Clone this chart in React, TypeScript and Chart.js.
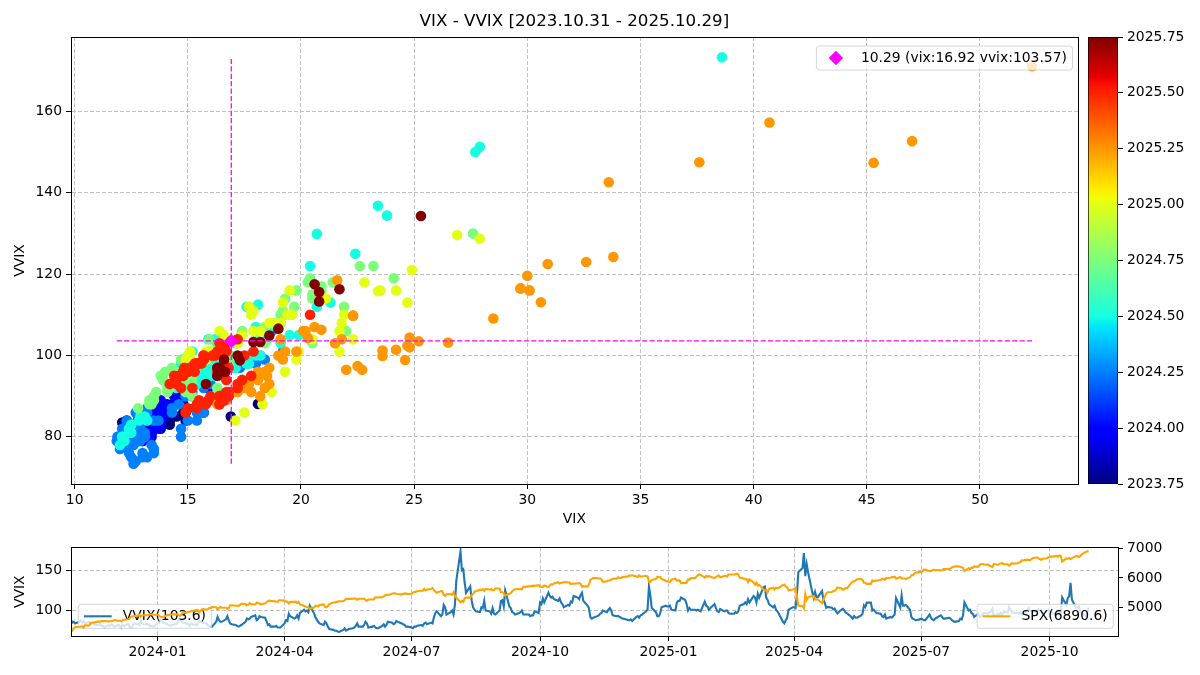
import React, { useEffect, useRef } from 'react';
import { Chart, registerables } from 'chart.js';

Chart.register(...registerables);

// ------------------------------------------------------------------ data
// first month of the series and the first / last trading day
const START_YEAR = 2023;
const START_MONTH = 10;
const START_DAY = 31;
const END_DAY = 29;
const EXTRA_DAYS_RIGHT = 21;

// one inner list per calendar month (weekdays in order)
const vixByMonth: number[][] = [
  [18.1], // 2023-10
  [16.9, 15.7, 14.9, 14.9, 14.8, 14.5, 15.3, 14.2, 14.8, 14.2, 14.2, 14.3, 13.8, 13.4, 13.4, 12.9, 12.9, 12.5, 12.7, 12.7, 13.0, 12.9],
  [12.6, 13.1, 12.9, 12.8, 13.1, 12.4, 12.1, 12.6, 12.2, 12.2, 12.3, 12.5, 12.6, 13.7, 13.0, 13.0, 13.0, 13.0, 12.4, 12.5, 12.5],
  [13.2, 13.2, 14.0, 14.0, 13.4, 13.1, 12.8, 12.7, 12.7, 12.7, 13.0, 13.8, 14.8, 14.1, 13.3, 13.2, 13.3, 12.6, 13.5, 13.3, 13.3, 13.6, 14.4],
  [13.9, 13.9, 13.7, 13.1, 12.8, 12.9, 12.9, 13.9, 15.9, 14.4, 14.0, 14.2, 14.7, 15.4, 14.5, 13.8, 13.8, 13.7, 13.4, 13.4, 13.4],
  [13.1, 13.5, 14.5, 14.5, 14.4, 14.7, 15.0, 13.8, 13.8, 14.4, 14.4, 14.3, 13.8, 13.0, 13.1, 12.9, 13.1, 13.2, 12.8, 13.0, 13.0],
  [13.7, 14.6, 14.3, 16.4, 16.0, 15.2, 15.2, 15.8, 14.9, 17.3, 19.2, 18.4, 18.2, 18.0, 18.7, 16.9, 15.7, 16.0, 15.4, 15.0, 14.7, 15.7],
  [15.4, 14.7, 13.5, 13.5, 13.2, 13.0, 12.7, 12.6, 13.0, 13.4, 12.5, 12.4, 12.0, 12.2, 11.86, 12.3, 12.8, 11.9, 11.9, 12.9, 14.3, 13.5, 12.9],
  [13.1, 13.1, 12.6, 12.6, 12.2, 12.7, 12.9, 12.0, 12.1, 12.7, 12.8, 12.3, 12.3, 13.2, 13.2, 12.8, 12.8, 12.6, 12.2, 12.4],
  [12.2, 12.0, 12.1, 12.1, 12.5, 12.4, 12.4, 12.85, 12.9, 12.5, 13.1, 13.2, 14.5, 15.9, 16.5, 14.9, 14.7, 18.0, 18.5, 16.4, 16.6, 17.7, 16.4],
  [18.6, 23.4, 38.6, 27.7, 27.9, 23.8, 20.4, 20.7, 18.1, 16.2, 15.2, 14.8, 14.7, 15.9, 16.3, 17.6, 15.9, 16.2, 15.4, 17.1, 15.7, 15.6],
  [18.0, 20.7, 21.3, 19.9, 22.4, 19.5, 19.1, 17.7, 17.1, 16.6, 17.1, 17.6, 18.2, 16.3, 16.2, 16.0, 15.4, 15.4, 15.4, 17.0, 16.7],
  [19.3, 18.9, 20.5, 19.2, 22.6, 21.4, 20.9, 20.9, 20.5, 19.7, 20.6, 19.6, 19.1, 18.0, 18.4, 18.2, 19.2, 19.1, 20.3, 19.8, 19.3, 20.4, 23.2],
  [21.9, 22.0, 20.5, 16.3, 15.2, 14.9, 15.0, 14.7, 14.0, 14.3, 16.1, 15.6, 16.4, 17.2, 16.9, 15.2, 14.6, 14.1, 14.1, 14.1, 13.5],
  [13.3, 13.3, 13.4, 13.5, 12.8, 14.2, 14.2, 13.6, 13.9, 13.8, 14.7, 15.9, 27.6, 24.1, 18.4, 16.8, 14.3, 14.3, 14.7, 15.95, 17.4, 17.35],
  [17.4, 17.9, 16.1, 16.0, 17.8, 17.7, 17.7, 19.5, 19.2, 18.7, 16.1, 16.6, 16.0, 16.0, 15.1, 15.1, 15.0, 14.9, 17.9, 16.4, 16.6, 15.8, 16.4],
  [18.6, 17.2, 15.8, 15.5, 16.5, 15.8, 16.0, 16.0, 15.1, 14.8, 14.8, 15.4, 15.3, 15.7, 18.2, 19.0, 19.4, 19.1, 21.1, 19.6],
  [22.8, 23.5, 21.9, 24.9, 23.4, 27.9, 26.9, 24.2, 24.7, 21.8, 20.5, 21.7, 19.9, 19.8, 19.3, 17.5, 17.1, 18.3, 18.7, 21.7, 22.3],
  [21.8, 21.5, 30.0, 45.3, 47.0, 52.3, 33.6, 40.7, 37.6, 30.9, 30.1, 32.6, 29.7, 29.7, 33.8, 30.6, 28.5, 26.5, 24.8, 25.2, 24.2, 24.7],
  [24.6, 22.7, 23.6, 24.8, 23.6, 22.5, 22.0, 18.4, 18.2, 18.6, 17.8, 17.2, 18.1, 18.1, 20.9, 20.3, 22.3, 22.3, 19.0, 19.3, 19.2, 18.6],
  [18.4, 17.7, 17.6, 18.5, 16.8, 17.2, 17.0, 17.3, 18.0, 20.8, 19.1, 21.6, 20.1, 20.2, 20.6, 19.8, 17.5, 16.8, 16.6, 16.3, 16.7],
  [16.8, 16.6, 16.4, 16.4, 17.8, 16.8, 15.9, 15.8, 16.4, 17.2, 17.4, 17.2, 16.5, 16.4, 16.7, 16.5, 15.4, 15.4, 14.9, 15.0, 16.0, 15.5, 16.7],
  [20.4, 17.5, 17.9, 16.8, 16.6, 15.2, 16.3, 14.7, 14.5, 14.8, 15.1, 15.0, 15.6, 15.7, 16.6, 14.2, 14.8, 14.6, 14.85, 14.4, 15.4],
  [15.4, 17.2, 16.4, 15.3, 15.2, 15.1, 15.0, 15.35, 14.7, 14.8, 15.7, 16.4, 15.7, 15.7, 15.45, 16.1, 16.6, 16.2, 16.7, 15.3, 16.1, 16.3],
  [16.3, 16.6, 16.65, 16.4, 17.2, 16.3, 16.4, 21.7, 19.0, 20.8, 20.6, 25.3, 20.8, 18.2, 17.9, 18.6, 17.3, 16.4, 15.8, 16.4, 16.92],
];

const vvixByMonth: number[][] = [
  [88.1], // 2023-10
  [85, 86, 84, 86, 88, 85, 87, 84, 86, 83, 84, 85, 82, 82, 83, 81, 81, 79, 82, 81, 83, 82],
  [80, 82, 81, 79, 83, 81, 83.5, 80, 79, 81, 84, 83, 82, 88, 84, 83, 83, 82, 80, 81, 80],
  [84, 84, 88, 87, 85, 83, 82, 81, 82, 82, 84, 87, 90, 88, 85, 84, 83, 81, 84, 83, 82, 84, 88],
  [86, 85, 84, 82, 80, 81, 80, 86, 92, 88, 86, 86, 89, 93, 88, 84, 83, 82, 81, 80, 81],
  [82, 86, 90, 89, 90, 92, 94, 88, 89, 93, 92, 91, 87, 82, 83, 80, 80, 81, 79, 79, 79],
  [84, 88, 87, 96, 93, 90, 91, 94, 90, 97, 101, 99, 100, 98, 106, 97, 92, 89, 86, 84, 82, 86],
  [84, 80, 77, 76, 75, 75, 74, 73.4, 76, 78, 75, 76, 77, 78, 79, 81, 84, 80, 80, 82, 86, 84, 79],
  [80, 81, 79, 78, 78, 81, 83, 80, 82, 86, 85, 83, 84, 87, 86, 84, 83, 82, 80, 80],
  [79, 78, 80, 80, 81, 82, 81, 84, 85, 83, 85, 84, 92, 97, 99, 93, 95, 107, 104, 95, 98, 100, 95],
  [107, 136.8, 173.3, 150, 151.3, 134.4, 122, 129.9, 112.5, 104, 101, 99, 98, 104, 103, 112, 100, 99, 96, 103, 96, 95],
  [100, 112, 113, 105, 125, 105, 103, 98, 97, 95, 97, 98, 100, 95, 95, 95, 93, 94, 94, 99, 97],
  [110, 108, 115, 110, 122, 118, 116, 117, 114, 112, 115, 110, 108, 104, 107, 106, 111, 110, 118, 116, 114, 119, 122],
  [112, 106, 103, 92, 90, 91, 93, 94, 96, 97, 100, 98, 101, 103, 100, 94, 93, 93, 92, 91, 90],
  [89, 88, 88, 89, 87, 92, 93, 91, 94, 95, 99, 101, 130, 119, 103, 98, 93, 93, 96, 104, 106, 105],
  [105, 106, 101, 100, 110, 112, 112, 116, 113, 108, 100, 103, 101, 101, 100, 101, 100, 99, 111, 106, 105, 101, 103],
  [108, 103, 99, 98, 102, 99, 100, 100, 97, 96, 96, 98, 97, 99, 106, 108, 110, 108, 114, 110],
  [118, 116, 110, 121, 115.8, 128.7, 129.6, 116, 113, 108, 104, 106, 101, 99, 96, 86, 84, 88, 91, 101, 104],
  [104, 103, 119.6, 147.4, 152.7, 171.1, 142.6, 157.3, 147.5, 122.5, 116, 123, 116.5, 116.5, 124.2, 113.1, 109.1, 103.2, 104.4, 103.5, 101.4, 102.4],
  [98.9, 96.5, 101.2, 102, 99.9, 97.4, 96.5, 92, 90, 93, 91, 91, 94, 96, 106.3, 104.3, 109.8, 109.8, 100, 101, 99, 97],
  [96, 93, 92, 95, 90, 92, 91, 93, 95, 115.4, 104, 118.5, 106, 106, 107, 101, 92, 90, 89, 88, 89],
  [90, 89, 88, 88, 95, 91, 89, 88, 90, 93, 94, 92, 90, 90, 91, 90, 88, 87, 86, 87, 90, 89, 94],
  [110, 100, 101, 97, 96, 92, 96, 92, 93, 95, 97, 96, 98, 99, 102, 93, 96, 95, 97, 95, 98],
  [98, 104, 101, 98, 97, 97, 96, 98, 95, 96, 100, 103, 100, 99, 98, 100, 102, 100, 101, 96, 100, 101],
  [97, 99, 96, 97, 100, 95, 96, 116.3, 106.6, 115.6, 117.5, 134.3, 113.3, 103.3, 103.3, 104.9, 98.8, 96, 93, 97, 103.57],
];

const spxByMonth: number[][] = [
  [4194], // 2023-10
  [4238, 4318, 4358, 4366, 4379, 4383, 4347, 4415, 4412, 4496, 4503, 4509, 4515, 4547, 4538, 4557, 4557, 4559, 4550, 4555, 4551, 4568],
  [4595, 4570, 4567, 4549, 4586, 4604, 4622, 4644, 4708, 4720, 4719, 4740, 4769, 4698, 4746, 4755, 4754, 4775, 4781, 4783, 4770],
  [4770, 4743, 4705, 4689, 4697, 4764, 4757, 4783, 4780, 4784, 4784, 4766, 4739, 4781, 4840, 4850, 4865, 4869, 4895, 4891, 4928, 4925, 4846],
  [4906, 4959, 4943, 4954, 4995, 4998, 5027, 5022, 4953, 5001, 5030, 5006, 5006, 4976, 4982, 5087, 5089, 5070, 5078, 5070, 5096],
  [5137, 5131, 5079, 5105, 5157, 5124, 5118, 5175, 5165, 5150, 5117, 5149, 5179, 5225, 5241, 5234, 5218, 5204, 5203, 5254, 5254],
  [5243, 5205, 5211, 5147, 5204, 5202, 5209, 5161, 5199, 5123, 5062, 5051, 5022, 5011, 4967, 5010, 5071, 5071, 5048, 5100, 5116, 5036],
  [5018, 5064, 5128, 5181, 5187, 5188, 5214, 5223, 5221, 5247, 5308, 5297, 5303, 5308, 5321, 5307, 5267, 5304, 5304, 5306, 5267, 5235, 5278],
  [5283, 5291, 5354, 5352, 5347, 5361, 5375, 5421, 5434, 5431, 5473, 5487, 5487, 5473, 5465, 5448, 5469, 5478, 5483, 5460],
  [5475, 5509, 5537, 5537, 5567, 5572, 5577, 5634, 5585, 5615, 5631, 5667, 5589, 5545, 5505, 5564, 5556, 5427, 5399, 5459, 5464, 5436, 5522],
  [5410, 5347, 5186, 5240, 5199, 5319, 5344, 5344, 5434, 5455, 5543, 5554, 5608, 5597, 5621, 5571, 5634, 5616, 5626, 5592, 5591, 5648],
  [5648, 5529, 5520, 5503, 5408, 5471, 5496, 5554, 5596, 5626, 5633, 5634, 5618, 5713, 5703, 5719, 5732, 5722, 5745, 5738, 5762],
  [5709, 5709, 5699, 5751, 5696, 5751, 5792, 5780, 5815, 5859, 5815, 5842, 5841, 5865, 5853, 5851, 5797, 5810, 5808, 5823, 5832, 5813, 5705],
  [5729, 5713, 5782, 5929, 5973, 5996, 6001, 5984, 5985, 5949, 5871, 5894, 5917, 5918, 5949, 5970, 5987, 6022, 5999, 5999, 6032],
  [6047, 6050, 6086, 6075, 6090, 6053, 6034, 6084, 6051, 6051, 6074, 6050, 5872, 5867, 5931, 5975, 6040, 6040, 6037, 5971, 5907, 5882],
  [5882, 5869, 5942, 5975, 5909, 5919, 5919, 5827, 5837, 5843, 5950, 5937, 5997, 5997, 6049, 6086, 6119, 6101, 6012, 6068, 6039, 6071, 6041],
  [5994, 6038, 6061, 6084, 6026, 6066, 6069, 6052, 6115, 6115, 6115, 6129, 6144, 6117, 6013, 5983, 5955, 5956, 5862, 5955],
  [5850, 5778, 5843, 5739, 5770, 5615, 5572, 5599, 5522, 5639, 5675, 5615, 5675, 5663, 5668, 5768, 5777, 5712, 5693, 5581, 5612],
  [5633, 5671, 5397, 5074, 5062, 4982, 5457, 5268, 5363, 5406, 5397, 5276, 5283, 5283, 5158, 5288, 5376, 5485, 5525, 5529, 5561, 5569],
  [5604, 5687, 5650, 5607, 5631, 5664, 5660, 5844, 5886, 5892, 5917, 5958, 5964, 5941, 5845, 5842, 5802, 5802, 5922, 5889, 5912, 5912],
  [5936, 5970, 5971, 5939, 6000, 6006, 6039, 6022, 6045, 5977, 6033, 5983, 5981, 5981, 5968, 6025, 6092, 6092, 6141, 6173, 6205],
  [6198, 6227, 6279, 6279, 6230, 6226, 6263, 6280, 6260, 6269, 6244, 6264, 6297, 6297, 6306, 6309, 6359, 6364, 6388, 6390, 6371, 6362, 6339],
  [6238, 6330, 6299, 6345, 6340, 6389, 6374, 6446, 6466, 6469, 6450, 6449, 6411, 6396, 6370, 6467, 6444, 6466, 6481, 6502, 6460],
  [6460, 6416, 6448, 6502, 6482, 6495, 6512, 6532, 6587, 6584, 6615, 6606, 6600, 6631, 6664, 6693, 6657, 6638, 6605, 6644, 6661, 6688],
  [6711, 6715, 6716, 6740, 6715, 6754, 6736, 6553, 6655, 6644, 6671, 6630, 6664, 6736, 6735, 6699, 6738, 6792, 6875, 6891, 6890.6],
];

const vixTicks = [10, 15, 20, 25, 30, 35, 40, 45, 50];
const vvixTicks = [80, 100, 120, 140, 160];
const colorTicks = [2023.75, 2024.0, 2024.25, 2024.5, 2024.75, 2025.0, 2025.25, 2025.5, 2025.75];
const dateTicks = ['2024-01', '2024-04', '2024-07', '2024-10', '2025-01', '2025-04', '2025-07', '2025-10'];
const lowerVvixTicks = [100, 150];
const spxTicks = [5000, 6000, 7000];

// ------------------------------------------------------------------ helpers
const DAY0 = Date.UTC(2024, 0, 1);
const MS_DAY = 86400000;
const pad2 = (n: number) => String(n).padStart(2, '0');

type Row = { day: number; vix: number; vvix: number; spx: number; c: number; y: number; m: number; d: number };

function buildRows(): Row[] {
  const rows: Row[] = [];
  const nMonths = vixByMonth.length;
  for (let i = 0; i < nMonths; i++) {
    const idx = START_MONTH - 1 + i;
    const y = START_YEAR + Math.floor(idx / 12);
    const m = idx % 12;
    const dim = new Date(Date.UTC(y, m + 1, 0)).getUTCDate();
    const d0 = i === 0 ? START_DAY : 1;
    const d1 = i === nMonths - 1 ? END_DAY : dim;
    const days: number[] = [];
    for (let d = d0; d <= d1; d++) {
      const wd = new Date(Date.UTC(y, m, d)).getUTCDay();
      if (wd !== 0 && wd !== 6) days.push(d);
    }
    const n = Math.min(days.length, vixByMonth[i].length, vvixByMonth[i].length, spxByMonth[i].length);
    for (let k = 0; k < n; k++) {
      const t = Date.UTC(y, m, days[k]);
      rows.push({
        day: (t - DAY0) / MS_DAY,
        vix: vixByMonth[i][k],
        vvix: vvixByMonth[i][k],
        spx: spxByMonth[i][k],
        c: y + Math.floor(m / 3) * 0.25,
        y,
        m: m + 1,
        d: days[k],
      });
    }
  }
  return rows;
}

const JET: Record<string, number[][]> = {
  r: [[0, 0], [0.35, 0], [0.66, 1], [0.89, 1], [1, 0.5]],
  g: [[0, 0], [0.125, 0], [0.375, 1], [0.64, 1], [0.91, 0], [1, 0]],
  b: [[0, 0.5], [0.11, 1], [0.34, 1], [0.65, 0], [1, 0]],
};
function interp(pts: number[][], x: number) {
  if (x <= pts[0][0]) return pts[0][1];
  for (let i = 1; i < pts.length; i++) {
    if (x <= pts[i][0]) {
      const [x0, y0] = pts[i - 1];
      const [x1, y1] = pts[i];
      return y0 + ((y1 - y0) * (x - x0)) / (x1 - x0);
    }
  }
  return pts[pts.length - 1][1];
}
function jet(x: number) {
  const c = (k: string) => Math.round(255 * interp(JET[k], Math.min(1, Math.max(0, x))));
  return `rgb(${c('r')},${c('g')},${c('b')})`;
}
const JET_STOPS = [0, 0.11, 0.125, 0.34, 0.35, 0.375, 0.64, 0.65, 0.66, 0.89, 0.91, 1];

const FONT = 'DejaVu Sans';
const tickFont = { family: FONT, size: 13.9 };
const BLACK = '#000000';
const GRID = '#b0b0b0';

const setTicks = (vals: number[]) => (s: any) => {
  s.ticks = vals.map((v) => ({ value: v }));
};
const fixWidth = (w: number) => (s: any) => {
  s.width = w;
};
const fixHeight = (h: number) => (s: any) => {
  s.height = h;
};

const framePlugin = {
  id: 'frame',
  afterDatasetsDraw(chart: any) {
    const { ctx, chartArea: a } = chart;
    ctx.save();
    ctx.strokeStyle = BLACK;
    ctx.lineWidth = 1;
    ctx.strokeRect(Math.round(a.left) + 0.5, Math.round(a.top) + 0.5, Math.round(a.right - a.left), Math.round(a.bottom - a.top));
    ctx.restore();
  },
};

const L_PAD = 5.6;
const L_HANDLE = 27.8;
const L_GAP = 11.1;
const L_H = 24;

function legendFrame(ctx: CanvasRenderingContext2D, x: number, y: number, w: number, h: number) {
  const r = 3;
  ctx.save();
  ctx.beginPath();
  ctx.moveTo(x + r, y);
  ctx.arcTo(x + w, y, x + w, y + h, r);
  ctx.arcTo(x + w, y + h, x, y + h, r);
  ctx.arcTo(x, y + h, x, y, r);
  ctx.arcTo(x, y, x + w, y, r);
  ctx.closePath();
  ctx.fillStyle = 'rgba(255,255,255,0.8)';
  ctx.fill();
  ctx.strokeStyle = 'rgba(204,204,204,0.8)';
  ctx.lineWidth = 1;
  ctx.stroke();
  ctx.restore();
}

function drawLegend(
  ctx: CanvasRenderingContext2D,
  text: string,
  anchorX: number,
  top: number,
  alignRight: boolean,
  handle: (cx: number, cy: number, x0: number, x1: number) => void,
) {
  ctx.save();
  ctx.font = `${tickFont.size}px "${FONT}"`;
  const tw = ctx.measureText(text).width;
  const w = L_PAD + L_HANDLE + L_GAP + tw + L_PAD;
  const x = alignRight ? anchorX - w : anchorX;
  legendFrame(ctx, x, top, w, L_H);
  const cy = top + L_H / 2;
  handle(x + L_PAD + L_HANDLE / 2, cy, x + L_PAD, x + L_PAD + L_HANDLE);
  ctx.fillStyle = BLACK;
  ctx.textBaseline = 'middle';
  ctx.textAlign = 'left';
  ctx.fillText(text, x + L_PAD + L_HANDLE + L_GAP, cy + 0.5);
  ctx.restore();
}

// ------------------------------------------------------------------ component
export default function App() {
  const mainRef = useRef<HTMLCanvasElement>(null);
  const cbRef = useRef<HTMLCanvasElement>(null);
  const lowRef = useRef<HTMLCanvasElement>(null);

  useEffect(() => {
    Chart.defaults.font.family = FONT;
    const rows = buildRows();
    const first = rows[0];
    const last = rows[rows.length - 1];
    const vixs = rows.map((r) => r.vix);
    const vvixs = rows.map((r) => r.vvix);
    const spxs = rows.map((r) => r.spx);
    const vixMin = Math.min(...vixs), vixMax = Math.max(...vixs);
    const vvMin = Math.min(...vvixs), vvMax = Math.max(...vvixs);
    const spMin = Math.min(...spxs), spMax = Math.max(...spxs);
    const margin = (lo: number, hi: number) => [lo - 0.05 * (hi - lo), hi + 0.05 * (hi - lo)];
    const [xLo, xHi] = margin(vixMin, vixMax);
    const [yLo, yHi] = margin(vvMin, vvMax);
    const [sLo, sHi] = margin(spMin, spMax);
    const cMin = colorTicks[0];
    const cMax = colorTicks[colorTicks.length - 1];
    const fmtDate = (r: Row) => `${r.y}.${pad2(r.m)}.${pad2(r.d)}`;
    const legendText = `${pad2(last.m)}.${pad2(last.d)} (vix:${last.vix.toFixed(2)} vvix:${last.vvix.toFixed(2)})`;

    const axisCommon = (title?: string, titlePad?: any) => ({
      grid: { color: GRID, lineWidth: 0.8, tickColor: BLACK, tickLength: 5, tickWidth: 1 },
      border: { color: BLACK, width: 1, dash: [4, 2] },
      ticks: { font: tickFont, color: BLACK, maxRotation: 0, autoSkip: false },
      title: title
        ? { display: true, text: title, font: tickFont, color: BLACK, padding: titlePad }
        : { display: false },
    });

    const charts: Chart[] = [];

    // ---------------- main scatter
    const mainX: any = axisCommon('VIX', { top: 0, bottom: 7.7 });
    mainX.ticks = { ...mainX.ticks, padding: 3, callback: (v: any) => String(v) };
    const mainY: any = axisCommon('VVIX', { top: 12.5 });
    mainY.ticks = { ...mainY.ticks, padding: 4, callback: (v: any) => String(v) };

    const mainLegendPlugin = {
      id: 'mainLegend',
      afterDraw(chart: any) {
        const a = chart.chartArea;
        drawLegend(chart.ctx, legendText, a.right - 5.3, a.top + 9, true, (cx, cy) => {
          const ctx = chart.ctx;
          const r = 7.2;
          ctx.save();
          ctx.beginPath();
          ctx.moveTo(cx - r, cy);
          ctx.lineTo(cx, cy - r);
          ctx.lineTo(cx + r, cy);
          ctx.lineTo(cx, cy + r);
          ctx.closePath();
          ctx.fillStyle = '#ff00ff';
          ctx.fill();
          ctx.restore();
        });
      },
    };

    charts.push(
      new Chart(mainRef.current as HTMLCanvasElement, {
        type: 'scatter',
        data: {
          datasets: [
            {
              label: 'last',
              data: [{ x: last.vix, y: last.vvix }],
              pointStyle: 'rectRot',
              pointRadius: 7.2,
              backgroundColor: '#ff00ff',
              borderColor: '#ff00ff',
              borderWidth: 0,
            },
            {
              label: 'vline',
              data: [{ x: last.vix, y: vvMin }, { x: last.vix, y: vvMax }],
              showLine: true,
              borderColor: '#ff00ff',
              borderWidth: 1.3,
              borderDash: [5.2, 2.2],
              pointRadius: 0,
            },
            {
              label: 'hline',
              data: [{ x: vixMin, y: last.vvix }, { x: vixMax, y: last.vvix }],
              showLine: true,
              borderColor: '#ff00ff',
              borderWidth: 1.3,
              borderDash: [5.2, 2.2],
              pointRadius: 0,
            },
            {
              label: 'points',
              data: rows.map((r) => ({ x: r.vix, y: r.vvix })),
              backgroundColor: rows.map((r) => jet((r.c - cMin) / (cMax - cMin))),
              pointRadius: 5.3,
              borderWidth: 0,
            },
          ] as any,
        },
        options: {
          responsive: false,
          animation: false,
          events: [],
          layout: { padding: { left: 0, right: 7, top: 0, bottom: 0 } },
          plugins: {
            legend: { display: false },
            tooltip: { enabled: false },
            title: {
              display: true,
              fullSize: false,
              text: `VIX - VVIX [${fmtDate(first)} - ${fmtDate(last)}]`,
              font: { family: FONT, size: 16.7, weight: 'normal' },
              color: BLACK,
              padding: { top: 12, bottom: 5 },
            },
          },
          scales: {
            x: { type: 'linear', min: xLo, max: xHi, afterBuildTicks: setTicks(vixTicks), afterFit: fixHeight(51), ...mainX },
            y: { type: 'linear', min: yLo, max: yHi, afterBuildTicks: setTicks(vvixTicks), afterFit: fixWidth(71), ...mainY },
          },
        } as any,
        plugins: [framePlugin, mainLegendPlugin],
      }),
    );

    // ---------------- colour bar
    charts.push(
      new Chart(cbRef.current as HTMLCanvasElement, {
        type: 'bar',
        data: {
          labels: [''],
          datasets: [
            {
              data: [[cMin, cMax]],
              backgroundColor: (c: any) => {
                const ch = c.chart;
                const a = ch.chartArea;
                if (!a) return '#000';
                const g = ch.ctx.createLinearGradient(0, a.bottom, 0, a.top);
                JET_STOPS.forEach((p) => g.addColorStop(p, jet(p)));
                return g;
              },
              borderColor: BLACK,
              borderWidth: 1,
              borderSkipped: false,
              barPercentage: 1,
              categoryPercentage: 1,
            },
          ] as any,
        },
        options: {
          responsive: false,
          animation: false,
          events: [],
          layout: { padding: { left: 3, right: 0, top: 37, bottom: 51 } },
          plugins: { legend: { display: false }, tooltip: { enabled: false }, title: { display: false } },
          scales: {
            x: { display: false },
            y: {
              position: 'right',
              min: cMin,
              max: cMax,
              afterBuildTicks: setTicks(colorTicks),
              afterFit: fixWidth(82),
              grid: { drawOnChartArea: false, tickColor: BLACK, tickLength: 5, tickWidth: 1 },
              border: { display: false },
              ticks: { font: tickFont, color: BLACK, padding: 4, autoSkip: false, callback: (v: any) => Number(v).toFixed(2) },
            },
          },
        } as any,
      }),
    );

    // ---------------- lower time series
    const tickDays = dateTicks.map((s) => {
      const [yy, mm] = s.split('-').map(Number);
      return (Date.UTC(yy, mm - 1, 1) - DAY0) / MS_DAY;
    });
    const lowX: any = axisCommon();
    lowX.ticks = {
      ...lowX.ticks,
      padding: 3,
      callback: (v: any) => {
        const i = tickDays.indexOf(Number(v));
        return i >= 0 ? dateTicks[i] : '';
      },
    };
    const lowY: any = axisCommon('VVIX', { top: 12.5 });
    lowY.ticks = { ...lowY.ticks, padding: 4, callback: (v: any) => String(v) };

    const lowLegendPlugin = {
      id: 'lowLegends',
      beforeDatasetDraw(chart: any, args: any) {
        if (args.index !== 0) return;
        const a = chart.chartArea;
        drawLegend(chart.ctx, `VVIX(${last.vvix.toFixed(1)})`, a.left + 7.3, a.bottom - 7.7 - L_H, false, (_cx, cy, x0, x1) => {
          const ctx = chart.ctx;
          ctx.save();
          ctx.strokeStyle = '#1f77b4';
          ctx.lineWidth = 2.1;
          ctx.beginPath();
          ctx.moveTo(x0, cy);
          ctx.lineTo(x1, cy);
          ctx.stroke();
          ctx.restore();
        });
      },
      afterDraw(chart: any) {
        const a = chart.chartArea;
        drawLegend(chart.ctx, `SPX(${last.spx.toFixed(1)})`, a.right - 4.7, a.bottom - 7.7 - L_H, true, (_cx, cy, x0, x1) => {
          const ctx = chart.ctx;
          ctx.save();
          ctx.strokeStyle = '#ffa500';
          ctx.lineWidth = 2.1;
          ctx.beginPath();
          ctx.moveTo(x0, cy);
          ctx.lineTo(x1, cy);
          ctx.stroke();
          ctx.restore();
        });
      },
    };

    charts.push(
      new Chart(lowRef.current as HTMLCanvasElement, {
        type: 'line',
        data: {
          datasets: [
            {
              label: 'SPX',
              data: rows.map((r) => ({ x: r.day, y: r.spx })),
              borderColor: '#ffa500',
              borderWidth: 2.1,
              pointRadius: 0,
              tension: 0,
              yAxisID: 'y2',
            },
            {
              label: 'VVIX',
              data: rows.map((r) => ({ x: r.day, y: r.vvix })),
              borderColor: '#1f77b4',
              borderWidth: 2.1,
              pointRadius: 0,
              tension: 0,
              yAxisID: 'y',
            },
          ] as any,
        },
        options: {
          responsive: false,
          animation: false,
          events: [],
          layout: { padding: { left: 0, right: 0, top: 12, bottom: 0 } },
          plugins: { legend: { display: false }, tooltip: { enabled: false }, title: { display: false } },
          scales: {
            x: {
              type: 'linear',
              min: first.day,
              max: last.day + EXTRA_DAYS_RIGHT,
              afterBuildTicks: setTicks(tickDays),
              afterFit: fixHeight(39),
              ...lowX,
            },
            y: {
              type: 'linear',
              position: 'left',
              min: yLo,
              max: yHi,
              afterBuildTicks: setTicks(lowerVvixTicks),
              afterFit: fixWidth(71),
              ...lowY,
            },
            y2: {
              type: 'linear',
              position: 'right',
              min: sLo,
              max: sHi,
              afterBuildTicks: setTicks(spxTicks),
              afterFit: fixWidth(82),
              grid: { drawOnChartArea: false, tickColor: BLACK, tickLength: 5, tickWidth: 1 },
              border: { color: BLACK, width: 1 },
              ticks: { font: tickFont, color: BLACK, padding: 4, autoSkip: false, callback: (v: any) => String(v) },
            },
          },
        } as any,
        plugins: [framePlugin, lowLegendPlugin],
      }),
    );

    return () => charts.forEach((c) => c.destroy());
  }, []);

  const abs = (left: number, top: number, width: number, height: number): React.CSSProperties => ({
    position: 'absolute',
    left,
    top,
    width,
    height,
    display: 'block',
  });

  return (
    <div style={{ position: 'absolute', left: 0, top: 0, width: 1200, height: 675, background: '#ffffff' }}>
      <canvas ref={mainRef} width={1085} height={535} style={abs(0, 0, 1085, 535)} />
      <canvas ref={cbRef} width={115} height={535} style={abs(1085, 0, 115, 535)} />
      <canvas ref={lowRef} width={1200} height={140} style={abs(0, 535, 1200, 140)} />
    </div>
  );
}
